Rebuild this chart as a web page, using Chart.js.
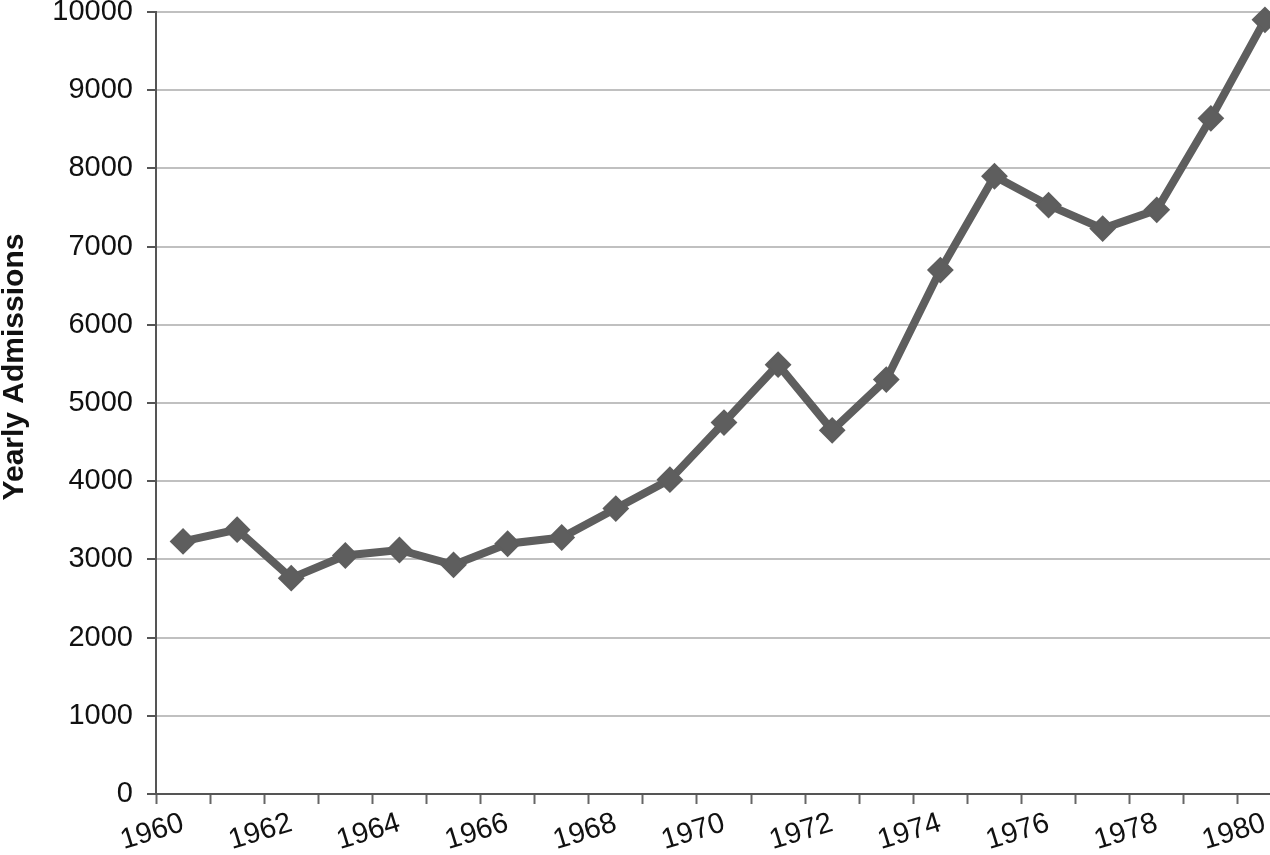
<!DOCTYPE html>
<html><head><meta charset="utf-8">
<script src="https://cdn.jsdelivr.net/npm/chart.js@4/dist/chart.umd.min.js"></script>
<style>
html,body{margin:0;padding:0;background:#fff;overflow:hidden;width:1270px;height:855px}
#wrap{position:absolute;left:0;top:-2px;width:1306px;height:872px}
</style>
</head><body><div id="wrap"><canvas id="c" width="1306" height="872"></canvas></div>
<script>
const years = ['1960','1961','1962','1963','1964','1965','1966','1967','1968','1969','1970','1971','1972','1973','1974','1975','1976','1977','1978','1979','1980'];
const yearlyAdmissions = [3230, 3380, 2760, 3050, 3120, 2930, 3200, 3280, 3650, 4020, 4750, 5490, 4650, 5300, 6700, 7900, 7530, 7230, 7470, 8640, 9900];
const yMin = 0, yMax = 10000, yStep = 1000;
const yAxisTitle = 'Yearly Admissions';

const FONT = "'Liberation Sans', Arial, sans-serif";
const lineColor = '#5e5e5e';

const titlePlugin = {
  id: 'yTitle',
  afterDraw(chart) {
    const ctx = chart.ctx;
    ctx.save();
    ctx.translate(23, 369);
    ctx.rotate(-Math.PI / 2);
    ctx.font = 'bold 30px ' + FONT;
    ctx.fillStyle = '#111';
    ctx.textAlign = 'center';
    ctx.textBaseline = 'alphabetic';
    ctx.fillText(yAxisTitle, 0, 0);
    ctx.restore();
  }
};

new Chart(document.getElementById('c'), {
  type: 'line',
  data: {
    labels: years,
    datasets: [{
      data: yearlyAdmissions,
      borderColor: lineColor,
      backgroundColor: lineColor,
      borderWidth: 8,
      tension: 0,
      pointStyle: 'rectRot',
      pointRadius: 12,
      pointBorderWidth: 2,
      pointBackgroundColor: lineColor,
      pointBorderColor: lineColor,
      clip: false
    }]
  },
  options: {
    responsive: false,
    animation: false,
    devicePixelRatio: 1,
    layout: { padding: { top: 10, right: 2, left: 0, bottom: 0 } },
    plugins: { legend: { display: false }, tooltip: { enabled: false } },
    scales: {
      x: {
        type: 'category',
        offset: true,
        grid: { offset: true, drawOnChartArea: false, drawTicks: true, tickLength: 10, tickColor: '#666', tickWidth: 2 },
        border: { color: '#555', width: 2 },
        ticks: {
          autoSkip: false, minRotation: 17, maxRotation: 17,
          font: { family: FONT, size: 29 }, color: '#111', padding: 2,
          callback: function(v, i) { return i % 2 === 0 ? years[i] : ''; }
        },
        afterFit: function(s) { s.height = 76; s.paddingLeft = 0; s.paddingRight = 0; }
      },
      y: {
        min: yMin, max: yMax,
        grid: { color: '#c0c0c0', lineWidth: 2, tickColor: '#555', tickLength: 9, tickWidth: 2 },
        border: { color: '#555', width: 2 },
        ticks: {
          stepSize: yStep,
          font: { family: FONT, size: 29 }, color: '#111', padding: 14,
          callback: function(v) { return String(v); }
        },
        afterFit: function(s) { s.width = 156; s.paddingTop = 0; s.paddingBottom = 0; }
      }
    }
  },
  plugins: [titlePlugin]
});
</script>
</body></html>
